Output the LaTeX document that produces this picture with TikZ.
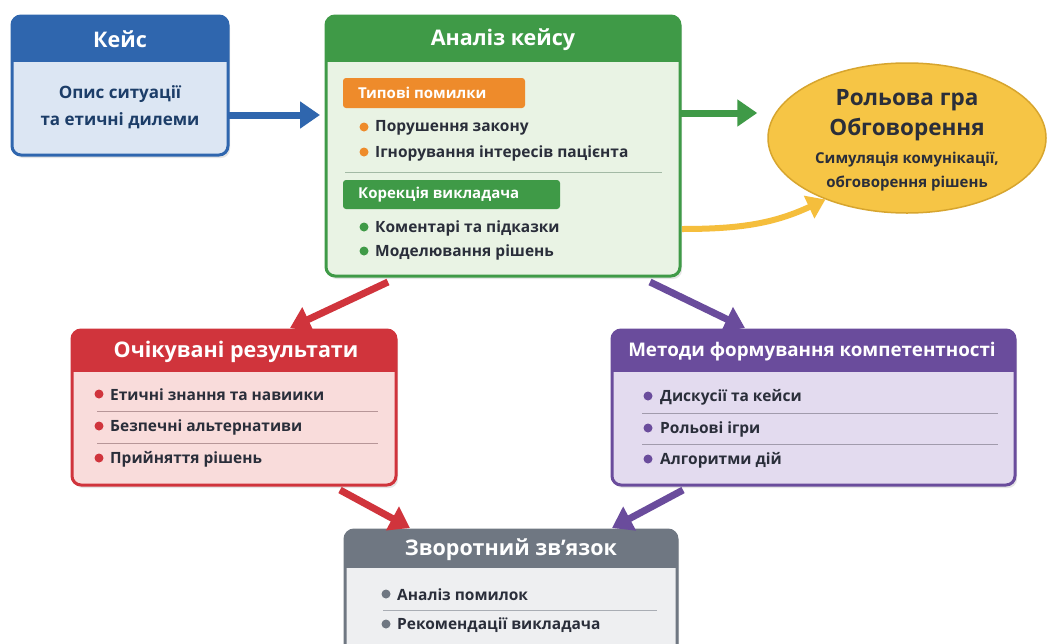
\documentclass[tikz,border=0pt]{standalone}
\usepackage{fontspec}
\setmainfont{Open Sans}
\usetikzlibrary{arrows.meta,shapes.geometric,calc}
\definecolor{bluedk}{HTML}{2F66AE}
\definecolor{bluelt}{HTML}{DCE6F3}
\definecolor{greendk}{HTML}{3F9A47}
\definecolor{greenlt}{HTML}{E9F3E4}
\definecolor{orangedk}{HTML}{EE8B2B}
\definecolor{yellowf}{HTML}{F6C545}
\definecolor{yellowb}{HTML}{D7A52E}
\definecolor{yellowa}{HTML}{F5BE3C}
\definecolor{reddk}{HTML}{D0343C}
\definecolor{redlt}{HTML}{F9DCDB}
\definecolor{purpledk}{HTML}{6A4C9C}
\definecolor{purplelt}{HTML}{E3DBEF}
\definecolor{graydk}{HTML}{6F7782}
\definecolor{graylt}{HTML}{EEEFF1}
\definecolor{txt}{HTML}{2A2E3A}
\newcommand\panelbox[8]{%
  \fill[black,opacity=0.10,rounded corners=9] (#2+2,#3+3) rectangle (#4+2,#5+3);
  \fill[#8,rounded corners=9] (#2,#3) rectangle (#4,#5);
  \begin{scope}
    \clip[rounded corners=9] (#2,#3) rectangle (#4,#5);
    \fill[#7] (#2,#3) rectangle (#4,#6);
  \end{scope}
  \draw[#7,line width=3,rounded corners=9] (#2,#3) rectangle (#4,#5);
  \pgfmathsetmacro\pw{#4-#2}\pgfmathsetmacro\ph{#5-#3}%
  \node[inner sep=0,outer sep=0,minimum width=\pw pt,minimum height=\ph pt] (#1) at ({(#2+#4)/2},{(#3+#5)/2}) {};
}
\tikzset{
  hdr/.style={text=white,font=\fontsize{21.5}{24}\selectfont\bfseries,inner sep=0},
  item/.style={text=txt,font=\fontsize{15.5}{18}\selectfont\bfseries,anchor=west,inner sep=0},
  dotm/.style={circle,inner sep=0,minimum size=9pt},
  sep/.style={line width=0.8,color=#1},
  tag/.style={rounded corners=3,fill=#1,text=white,font=\fontsize{15}{18}\selectfont\bfseries,anchor=west,inner sep=0,align=left},
  arr/.style={line width=7,color=#1,-{Triangle[length=20pt,width=26pt]}},
}
\begin{document}
\begin{tikzpicture}[x=1pt,y=-1pt]
\useasboundingbox[fill=white] (0,0) rectangle (1051,643);

% Кейс
\panelbox{kejs}{12}{16}{228}{155}{62}{bluedk}{bluelt}
\node[hdr] (kejsh) at (120,39) {Кейс};
\node[text=bluedk!60!black,font=\fontsize{17}{27}\selectfont\bfseries,align=center,inner sep=0] (kejst) at (120,107) {Опис ситуації\\та етичні дилеми};

% Аналіз кейсу
\panelbox{analiz}{326}{16}{680}{276}{62}{greendk}{greenlt}
\node[hdr] (analizh) at (503,40) {Аналіз кейсу};
\fill[orangedk,rounded corners=3] (343,78) rectangle (525,108);
\node[tag=orangedk] (tag1) at (358,93) {Типові помилки};
\node[dotm,fill=orangedk] (d1) at (364,127) {};
\node[item] (i1) at (375,128) {Порушення закону};
\node[dotm,fill=orangedk] (d2) at (364,152) {};
\node[item] (i2) at (375,153) {Ігнорування інтересів пацієнта};
\draw[sep=greendk!40!gray!60] (345,172) -- (662,172);
\fill[greendk,rounded corners=3] (343,180) rectangle (560,209);
\node[tag=greendk] (tag2) at (358,194.5) {Корекція викладача};
\node[dotm,fill=greendk] (d3) at (364,227) {};
\node[item] (i3) at (375,228) {Коментарі та підказки};
\node[dotm,fill=greendk] (d4) at (364,251) {};
\node[item] (i4) at (375,252) {Моделювання рішень};

% Рольова гра
\node[ellipse,fill=yellowf,draw=yellowb,line width=1.5,minimum width=278pt,minimum height=150pt] (rg) at (907,138) {};
\node[text=txt,font=\fontsize{22.5}{30}\selectfont\bfseries,align=center,inner sep=0] (rgt) at (907,115) {Рольова гра\\Обговорення};
\node[text=txt,font=\fontsize{15}{24}\selectfont\bfseries,align=center,inner sep=0] (rgs) at (907,172) {Симуляція комунікації,\\обговорення рішень};

% Очікувані результати
\panelbox{ochik}{72}{330}{396}{485}{372}{reddk}{redlt}
\node[hdr] (ochikh) at (236,352) {Очікувані результати};
\node[dotm,fill=reddk] (r1d) at (99,394) {};
\node[item] (r1) at (110,395) {Етичні знання та навиики};
\draw[sep=reddk!30!gray!70] (97,411) -- (378,411);
\node[dotm,fill=reddk] (r2d) at (99,426) {};
\node[item] (r2) at (110,427) {Безпечні альтернативи};
\draw[sep=reddk!30!gray!70] (97,443) -- (378,443);
\node[dotm,fill=reddk] (r3d) at (99,458) {};
\node[item] (r3) at (110,459) {Прийняття рішень};

% Методи формування компетентності
\panelbox{metody}{612}{330}{1015}{485}{372}{purpledk}{purplelt}
\node[hdr,font=\fontsize{18.8}{22}\selectfont\bfseries] (metodyh) at (812,352) {Методи формування компетентності};
\node[dotm,fill=purpledk] (p1d) at (648,396) {};
\node[item] (p1) at (660,397) {Дискусії та кейси};
\draw[sep=purpledk!30!gray!70] (642,413) -- (998,413);
\node[dotm,fill=purpledk] (p2d) at (648,428) {};
\node[item] (p2) at (660,429) {Рольові ігри};
\draw[sep=purpledk!30!gray!70] (642,444) -- (998,444);
\node[dotm,fill=purpledk] (p3d) at (648,459) {};
\node[item] (p3) at (660,460) {Алгоритми дій};

% Зворотний зв'язок
\panelbox{zvor}{345}{530}{677}{655}{568}{graydk}{graylt}
\node[hdr] (zvorh) at (511,550) {Зворотний зв’язок};
\node[dotm,fill=graydk] (g1d) at (386,594) {};
\node[item] (g1) at (397,595) {Аналіз помилок};
\draw[sep=graydk!60] (383,610) -- (657,610);
\node[dotm,fill=graydk] (g2d) at (386,624) {};
\node[item] (g2) at (397,625) {Рекомендації викладача};

% Connectors
\coordinate (a1) at (0,115);
\coordinate (a2) at (0,113);
\coordinate (a3) at (0,229);
\draw[arr=bluedk] (kejs.east |- a1) -- ([xshift=-6pt]analiz.west |- a1);
\draw[arr=greendk] (analiz.east |- a2) -- ([xshift=-10pt]rg.west |- a2);
\draw[line width=6,color=yellowa,-{Triangle[length=18pt,width=24pt]}] ([xshift=2pt]analiz.east |- a3) to[out=0,in=205] (rg.217);
\draw[arr=reddk] ([xshift=62pt,yshift=-6pt]analiz.south west) -- ([xshift=218pt,yshift=2pt]ochik.north west);
\draw[arr=purpledk] ([xshift=-30pt,yshift=-6pt]analiz.south east) -- ([xshift=133pt,yshift=2pt]metody.north west);
\draw[arr=reddk] ([xshift=268pt,yshift=-5pt]ochik.south west) -- ([xshift=65pt,yshift=2pt]zvor.north west);
\draw[arr=purpledk] ([xshift=71pt,yshift=-5pt]metody.south west) -- ([xshift=-65pt,yshift=2pt]zvor.north east);
\end{tikzpicture}
\end{document}
